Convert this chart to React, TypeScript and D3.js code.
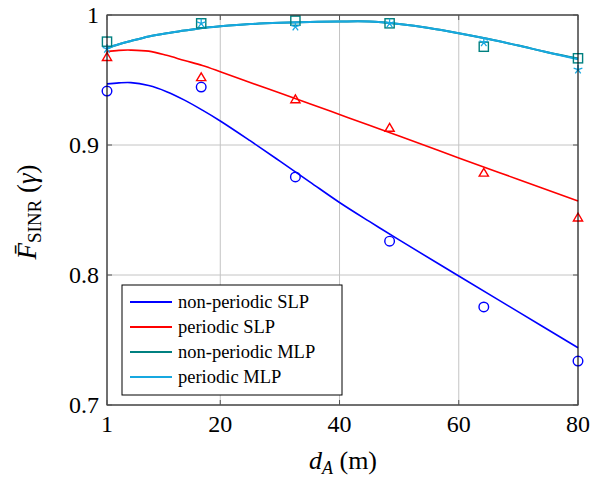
import * as d3 from "d3";
import { useEffect, useRef } from "react";

// measured points (markers)
const xMarks = [1, 16.8, 32.6, 48.4, 64.2, 80];
const nonPerSLP = [0.9415, 0.9446, 0.8754, 0.826, 0.7754, 0.7338];
const perSLP = [0.9675, 0.952, 0.935, 0.913, 0.8785, 0.844];
const nonPerMLP = [0.9795, 0.9936, 0.9956, 0.9936, 0.9756, 0.9667];
const perMLP = [0.974, 0.9936, 0.991, 0.9936, 0.979, 0.958];

// fitted curves
const fitSLPx = [1, 3, 5, 8, 11, 14, 17, 20, 25, 30, 35, 40, 45, 50, 60, 70, 80];
const fitNonPerSLP = [0.947, 0.9478, 0.948, 0.9457, 0.941, 0.9345, 0.9268, 0.9185, 0.9033, 0.8876, 0.8717, 0.8558, 0.8412, 0.827, 0.7992, 0.7716, 0.744];
const fitPerSLP = [0.9718, 0.9728, 0.973, 0.9722, 0.969, 0.965, 0.9612, 0.9564, 0.948, 0.94, 0.9318, 0.9235, 0.9152, 0.907, 0.89, 0.8735, 0.857];
const fitMLPx = [1, 3, 5, 8, 11, 14, 17, 20, 25, 30, 35, 40, 45, 50, 55, 60, 65, 70, 75, 80];
const fitNonPerMLP = [0.9745, 0.9775, 0.98, 0.9835, 0.986, 0.988, 0.99, 0.9913, 0.993, 0.994, 0.9946, 0.995, 0.995, 0.993, 0.99, 0.986, 0.9815, 0.9765, 0.9712, 0.9665];
const fitPerMLP = [0.9745, 0.9775, 0.98, 0.9835, 0.986, 0.988, 0.99, 0.9913, 0.993, 0.994, 0.9946, 0.995, 0.995, 0.993, 0.99, 0.986, 0.9815, 0.9765, 0.9712, 0.966];

const xTicks = [1, 20, 40, 60, 80];
const yTicks = [0.7, 0.8, 0.9, 1];

const legendNames = ["non-periodic SLP", "periodic SLP", "non-periodic MLP", "periodic MLP"];
const colors = ["#0000ff", "#ff0000", "#008080", "#17a8e0"];

const App = () => {
  const ref = useRef<SVGSVGElement>(null);

  useEffect(() => {
    document.body.style.margin = "0";
    const svg = d3.select(ref.current);
    svg.selectAll("*").remove();

    const x = d3.scaleLinear().domain([1, 80]).range([107, 578]);
    const y = d3.scaleLinear().domain([0.7, 1]).range([405, 15]);
    const font = "'Liberation Serif', 'DejaVu Serif', serif";

    // grid
    const grid = svg.append("g").attr("stroke", "#c4c4c4").attr("stroke-width", 1);
    xTicks.forEach((t) => {
      grid.append("line").attr("x1", x(t)).attr("x2", x(t)).attr("y1", y(0.7)).attr("y2", y(1));
    });
    yTicks.forEach((t) => {
      grid.append("line").attr("x1", x(1)).attr("x2", x(80)).attr("y1", y(t)).attr("y2", y(t));
    });

    const line = d3.line<[number, number]>()
      .x((d) => x(d[0]))
      .y((d) => y(d[1]))
      .curve(d3.curveCatmullRom);

    const curves = [
      { xs: fitSLPx, ys: fitNonPerSLP, w: 1.6 },
      { xs: fitSLPx, ys: fitPerSLP, w: 1.6 },
      { xs: fitMLPx, ys: fitNonPerMLP, w: 2 },
      { xs: fitMLPx, ys: fitPerMLP, w: 2 },
    ];
    curves.forEach((c, i) => {
      svg.append("path")
        .datum(c.xs.map((v, k) => [v, c.ys[k]] as [number, number]))
        .attr("d", line)
        .attr("fill", "none")
        .attr("stroke", colors[i])
        .attr("stroke-width", c.w);
    });

    // markers
    const mk = svg.append("g").attr("fill", "none").attr("stroke-width", 1.4);
    nonPerSLP.forEach((v, k) => {
      mk.append("circle").attr("cx", x(xMarks[k])).attr("cy", y(v)).attr("r", 4.8).attr("stroke", colors[0]);
    });
    perSLP.forEach((v, k) => {
      const cx = x(xMarks[k]), cy = y(v);
      mk.append("path")
        .attr("d", `M${cx - 4.6},${cy + 3.2}L${cx + 4.6},${cy + 3.2}L${cx},${cy - 4.6}Z`)
        .attr("stroke", colors[1]);
    });
    nonPerMLP.forEach((v, k) => {
      const cx = x(xMarks[k]), cy = y(v);
      mk.append("rect").attr("x", cx - 4.6).attr("y", cy - 4.6).attr("width", 9.2).attr("height", 9.2)
        .attr("stroke", colors[2]);
    });
    perMLP.forEach((v, k) => {
      const cx = x(xMarks[k]), cy = y(v);
      let d = "";
      for (let a = 0; a < 5; a++) {
        const ang = -Math.PI / 2 + (a * 2 * Math.PI) / 5;
        d += `M${cx},${cy}L${cx + 4.6 * Math.cos(ang)},${cy + 4.6 * Math.sin(ang)}`;
      }
      mk.append("path").attr("d", d).attr("stroke", colors[3]).attr("stroke-width", 1.3);
    });

    // frame + ticks
    svg.append("rect")
      .attr("x", x(1)).attr("y", y(1))
      .attr("width", x(80) - x(1)).attr("height", y(0.7) - y(1))
      .attr("fill", "none").attr("stroke", "#000").attr("stroke-width", 1);
    const tk = svg.append("g").attr("stroke", "#555").attr("stroke-width", 1);
    xTicks.forEach((t) => {
      tk.append("line").attr("x1", x(t)).attr("x2", x(t)).attr("y1", y(0.7)).attr("y2", y(0.7) - 5);
      tk.append("line").attr("x1", x(t)).attr("x2", x(t)).attr("y1", y(1)).attr("y2", y(1) + 5);
    });
    yTicks.forEach((t) => {
      tk.append("line").attr("x1", x(1)).attr("x2", x(1) + 5).attr("y1", y(t)).attr("y2", y(t));
      tk.append("line").attr("x1", x(80)).attr("x2", x(80) - 5).attr("y1", y(t)).attr("y2", y(t));
    });

    const txt = svg.append("g").style("font-family", font);

    // tick labels
    xTicks.forEach((t) => {
      txt.append("text").attr("x", x(t)).attr("y", 432)
        .attr("text-anchor", "middle").style("font-size", "24px")
        .text(String(t));
    });
    yTicks.forEach((t) => {
      txt.append("text").attr("x", 99).attr("y", y(t) + 8)
        .attr("text-anchor", "end").style("font-size", "24px")
        .text(String(t));
    });

    // x label
    const xl = txt.append("text").attr("x", 343).attr("y", 469)
      .attr("text-anchor", "middle").style("font-size", "26px");
    xl.append("tspan").style("font-style", "italic").text("d");
    xl.append("tspan").attr("dy", 5).style("font-size", "18px").style("font-style", "italic").text("A");
    xl.append("tspan").attr("dy", -5).text(" (m)");

    // y label
    const yl = txt.append("text").attr("transform", "translate(36,212) rotate(-90)")
      .attr("text-anchor", "middle").style("font-size", "27px");
    yl.append("tspan").style("font-style", "italic").text("F\u0304");
    yl.append("tspan").attr("dy", 5).style("font-size", "19px").text("SINR");
    yl.append("tspan").attr("dy", -5).text(" (");
    yl.append("tspan").style("font-style", "italic").text("γ");
    yl.append("tspan").text(")");

    // legend
    const lg = svg.append("g");
    lg.append("rect").attr("x", 122).attr("y", 285).attr("width", 220).attr("height", 110)
      .attr("fill", "#fff").attr("stroke", "#000").attr("stroke-width", 1);
    legendNames.forEach((name, i) => {
      const ly = 302 + i * 25;
      lg.append("line").attr("x1", 130).attr("x2", 172).attr("y1", ly).attr("y2", ly)
        .attr("stroke", colors[i]).attr("stroke-width", 1.8);
      lg.append("text").attr("x", 178).attr("y", ly + 6)
        .style("font-family", font).style("font-size", "18.5px").text(name);
    });
  }, []);

  return <svg ref={ref} width={592} height={479} style={{ display: "block", background: "#fff" }} />;
};

export default App;
